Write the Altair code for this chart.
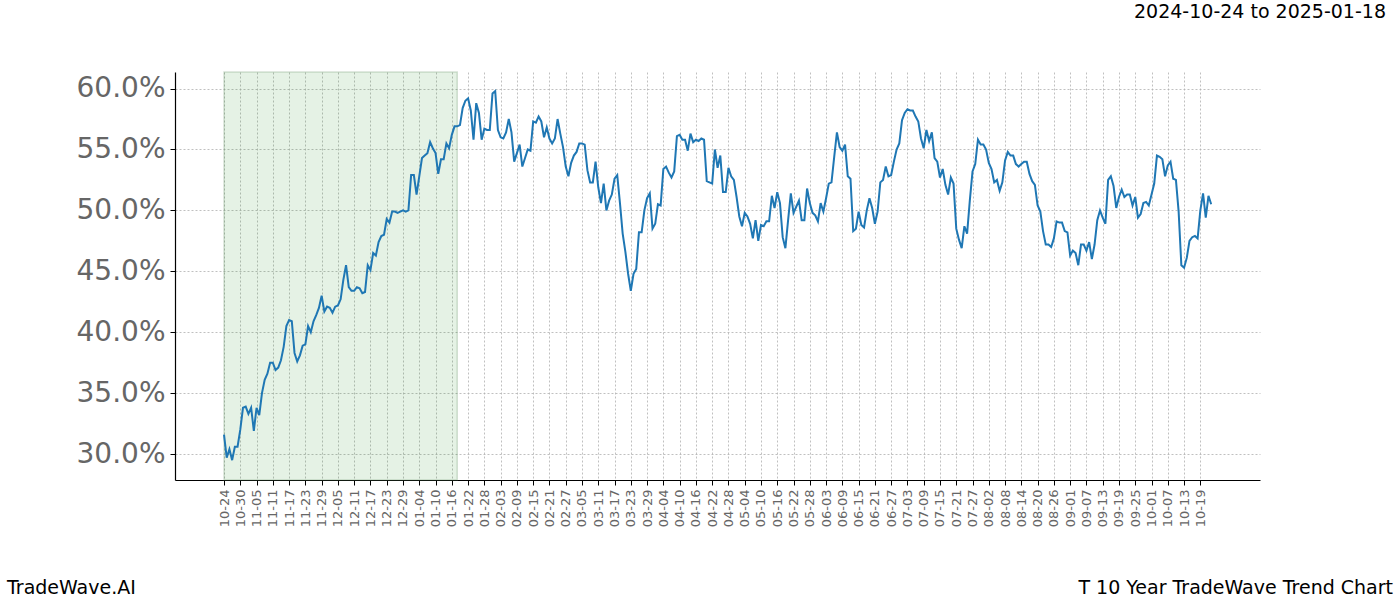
import altair as alt
import pandas as pd

# ---- data ----
start_date = "2024-10-24"
values = [
    31.6, 29.7, 30.4, 29.5, 30.6, 30.6, 32.0, 33.8, 33.9, 33.3,
    33.8, 31.9, 33.8, 33.2, 35.0, 36.1, 36.6, 37.5, 37.5, 36.9,
    37.1, 37.7, 38.8, 40.5, 41.0, 40.9, 38.3, 37.6, 38.1, 38.9,
    39.0, 40.5, 40.0, 40.9, 41.4, 42.0, 43.0, 41.7, 42.1, 42.0,
    41.6, 42.1, 42.2, 42.7, 44.3, 45.5, 43.7, 43.4, 43.4, 43.7,
    43.6, 43.2, 43.3, 45.5, 45.1, 46.5, 46.3, 47.4, 47.9, 48.0,
    49.3, 49.0, 49.9, 49.9, 49.8, 49.9, 50.0, 49.9, 50.0, 52.9,
    52.9, 51.3, 52.8, 54.3, 54.5, 54.7, 55.6, 55.1, 54.7, 53.0,
    54.2, 54.2, 55.5, 55.1, 56.2, 56.9, 56.9, 57.0, 58.4, 59.0,
    59.2, 58.2, 55.8, 58.8, 58.0, 55.8, 56.7, 56.6, 56.6, 59.6,
    59.8, 56.6, 56.0, 55.9, 56.4, 57.5, 56.4, 54.0, 54.7, 55.4,
    53.6, 54.3, 55.0, 54.9, 57.3, 57.2, 57.7, 57.3, 56.0, 56.8,
    55.9, 55.5, 55.9, 57.5, 56.3, 55.2, 53.6, 52.8, 53.9, 54.5,
    54.8, 55.5, 55.5, 55.4, 53.3, 52.3, 52.3, 54.0, 51.9, 50.6,
    52.2, 50.0, 50.8, 51.3, 52.6, 52.9, 50.6, 48.1, 46.6, 44.8,
    43.4, 44.8, 45.2, 48.2, 48.2, 50.0, 51.0, 51.4, 48.5, 48.9,
    50.5, 50.4, 53.4, 53.6, 53.1, 52.7, 53.2, 56.1, 56.2, 55.8,
    55.8, 54.9, 56.3, 55.6, 55.8, 55.7, 55.9, 55.8, 52.4, 52.3,
    52.2, 55.0, 53.5, 54.5, 51.5, 51.5, 53.5, 52.8, 52.5, 51.1,
    49.5, 48.7, 49.8, 49.5, 48.9, 47.7, 49.2, 47.5, 48.8, 48.7,
    49.1, 49.1, 51.2, 50.2, 51.5, 50.6, 47.8, 46.9, 49.2, 51.4,
    49.8, 50.3, 50.8, 49.2, 49.2, 51.8, 50.6, 49.8, 49.6, 49.1,
    50.6, 49.9, 51.0, 52.2, 52.3, 54.4, 56.4, 55.2, 54.9, 55.4,
    52.8, 52.6, 48.3, 48.5, 49.9, 48.8, 48.6, 50.0, 51.0, 50.2,
    48.9, 49.9, 52.3, 52.5, 53.6, 52.8, 52.9, 54.0, 55.0, 55.5,
    57.4, 58.0, 58.3, 58.2, 58.2, 57.7, 57.3, 55.9, 55.1, 56.6,
    55.7, 56.4, 54.3, 54.0, 52.7, 53.4, 52.1, 51.3, 52.7, 52.2,
    48.5, 47.6, 46.9, 48.7, 48.1, 50.8, 53.2, 53.8, 55.8, 55.4,
    55.4, 55.0, 53.9, 53.4, 52.3, 52.5, 51.6, 52.3, 54.1, 54.8,
    54.5, 54.5, 53.8, 53.6, 53.8, 54.0, 54.0, 53.0, 52.4, 52.1,
    50.4, 49.9, 48.3, 47.2, 47.2, 47.0, 47.7, 49.1, 49.0, 49.0,
    48.3, 48.2, 46.3, 46.7, 46.5, 45.5, 47.2, 47.2, 46.7, 47.4,
    46.0, 47.2, 49.2, 50.0, 49.4, 48.9, 52.5, 52.8, 52.0, 50.2,
    51.1, 51.7, 51.1, 51.3, 51.3, 50.4, 51.1, 49.4, 49.7, 50.6,
    50.7, 50.4, 51.3, 52.2, 54.5, 54.4, 54.2, 52.8, 53.7, 54.0,
    52.6, 52.5, 49.9, 45.5, 45.3, 46.1, 47.5, 47.8, 47.9, 47.7,
    50.0, 51.4, 49.4, 51.2, 50.5,
]
dates = pd.date_range(start_date, periods=len(values), freq="D")
tick_dates = pd.date_range("2024-10-24", "2025-10-19", freq="6D")
y_ticks = [30, 35, 40, 45, 50, 55, 60]
shade_start = "2024-10-24"
shade_end = "2025-01-18"
title_text = "2024-10-24 to 2025-01-18"
left_footer = "TradeWave.AI"
right_footer = "T 10 Year TradeWave Trend Chart"

df = pd.DataFrame({"date": dates.strftime("%Y-%m-%d"), "value": values})


def ms(ts):
    return int(pd.Timestamp(ts, tz="UTC").value // 10**6)


x_domain = [ms("2024-10-05 22:20"), ms("2025-11-10 00:00")]
tick_ms = [ms(t) for t in tick_dates]

W, H = 1085, 408
PAD_L, PAD_T = 175, 72

x_scale = alt.Scale(type="utc", domain=x_domain, nice=False)
y_scale = alt.Scale(domain=[27.87, 61.36], nice=False, zero=False)

x_axis = alt.Axis(
    values=tick_ms, format="%m-%d", labelAngle=270, labelAlign="right",
    labelBaseline="middle", labelFontSize=13, labelColor="#666666",
    labelFont="DejaVu Sans", labelPadding=4, tickSize=5, tickColor="black",
    domainColor="black", domainWidth=1.2, grid=True, gridDash=[2, 2],
    gridColor="#b0b0b0", gridWidth=0.8, title=None, labelOverlap=False,
)
y_axis = alt.Axis(
    values=y_ticks, labelExpr="format(datum.value, '.1f') + '%'",
    labelFontSize=28, labelColor="#666666", labelFont="DejaVu Sans",
    labelPadding=5, tickSize=5, tickColor="black", domainColor="black",
    domainWidth=1.2, grid=True, gridDash=[2, 2], gridColor="#b0b0b0",
    gridWidth=0.8, title=None,
)

shade = alt.Chart(
    alt.Data(values=[{"start": shade_start, "end": shade_end}])
).mark_rect(
    fill="green", fillOpacity=0.1, stroke="#5a8a5a", strokeOpacity=0.25, strokeWidth=1.5
).encode(
    x=alt.X("start:T", scale=x_scale, axis=x_axis),
    x2="end:T",
    y=alt.value(0),
    y2=alt.value(H),
)

line = alt.Chart(df).mark_line(color="#1f77b4", strokeWidth=2).encode(
    x=alt.X("date:T", scale=x_scale, axis=x_axis),
    y=alt.Y("value:Q", scale=y_scale, axis=y_axis),
)


def label(text, x, y, align):
    return alt.Chart(alt.Data(values=[{"t": text}])).mark_text(
        align=align, baseline="middle", fontSize=19, font="DejaVu Sans",
        color="black", clip=False,
    ).encode(text="t:N", x=alt.value(x), y=alt.value(y))


chart = alt.layer(
    shade,
    line,
    label(title_text, 1386 - PAD_L, 12 - PAD_T, "right"),
    label(left_footer, 7 - PAD_L, 588 - PAD_T, "left"),
    label(right_footer, 1393 - PAD_L, 588 - PAD_T, "right"),
).properties(
    width=W, height=H,
    autosize=alt.AutoSizeParams(type="none"),
    padding={"left": PAD_L, "top": PAD_T, "right": 1400 - PAD_L - W, "bottom": 600 - PAD_T - H},
    background="white",
).configure_view(stroke=None)

chart.save("out.html", embed_options={"renderer": "svg", "actions": False})
